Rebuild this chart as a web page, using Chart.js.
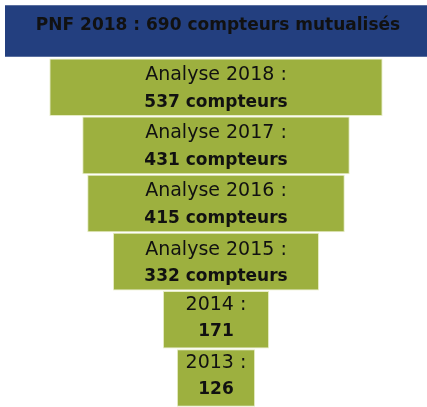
<!DOCTYPE html>
<html>
<head>
<meta charset="utf-8">
<script src="https://cdn.jsdelivr.net/npm/chart.js@4"></script>
<style>
  html, body { margin: 0; padding: 0; background: #fff; overflow: hidden; }
  #wrap { width: 427px; height: 407px; }
</style>
</head>
<body>
<div id="wrap"><canvas id="myChart" width="427" height="407"></canvas></div>
<script>
// funnel levels, top to bottom
const levels = ["PNF 2018", "Analyse 2018", "Analyse 2017", "Analyse 2016", "Analyse 2015", "2014", "2013"];
const counts = [690, 537, 431, 415, 332, 171, 126];
const unitText = ["compteurs mutualisés", "compteurs", "compteurs", "compteurs", "compteurs", "", ""];

const BLUE = "#233f7f";
const GREEN = "#9db03f";

const funnelLabels = {
  id: "funnelLabels",
  afterDatasetsDraw(chart) {
    const ctx = chart.ctx;
    const xs = chart.scales.x;
    const ys = chart.scales.y;
    const cx = xs.getPixelForValue(0);
    ctx.save();
    ctx.textAlign = "center";
    ctx.textBaseline = "middle";
    ctx.fillStyle = "#111111";
    levels.forEach((lvl, i) => {
      const cy = ys.getPixelForValue(i);
      const second = (counts[i] + " " + unitText[i]).trim();
      if (i === 0) {
        ctx.font = "bold 17px 'DejaVu Sans'";
        ctx.fillText(lvl + " : " + second, cx + 2, cy - 3);
        return;
      }
      // short rows (year only) sit a bit higher
      const up = unitText[i] ? 12 : 15;
      const down = unitText[i] ? 15 : 12;
      ctx.font = "19px 'DejaVu Sans'";
      ctx.fillText(lvl + " :", cx, cy - up);
      ctx.font = "bold 17px 'DejaVu Sans'";
      ctx.fillText(second, cx, cy + down);
    });
    ctx.restore();
  }
};

const config = {
  type: "bar",
  data: {
    labels: levels,
    datasets: [
      {
        data: counts.map((v) => [-v / 2, v / 2]),
        backgroundColor: counts.map((v, i) => (i === 0 ? BLUE : GREEN)),
        borderColor: counts.map((v, i) => (i === 0 ? "#ffffff" : "#e6ecc4")),
        borderWidth: (c) =>
          c.dataIndex === 0 ? { top: 5, bottom: 1, left: 0, right: 0 } : 1,
        borderSkipped: false,
        barPercentage: 0.99,
        categoryPercentage: 1,
      },
    ],
  },
  options: {
    indexAxis: "y",
    responsive: false,
    animation: false,
    layout: { padding: { left: 5, right: 0, top: 0, bottom: 0 } },
    plugins: {
      legend: { display: false },
      tooltip: { enabled: false },
    },
    scales: {
      x: { display: false, min: -340, max: 340 },
      y: { display: false },
    },
  },
  plugins: [funnelLabels],
};

var myChart = new Chart(document.getElementById("myChart"), config);
</script>
</body>
</html>
